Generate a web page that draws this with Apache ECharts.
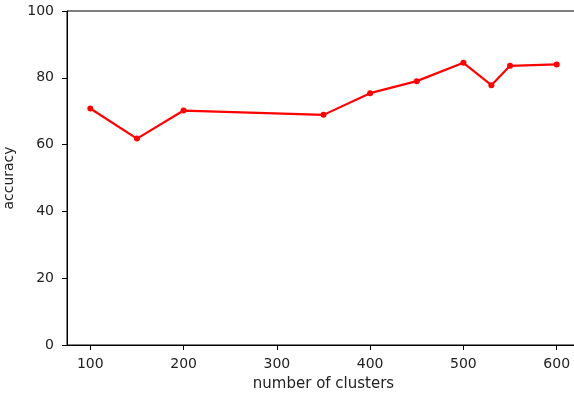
<!DOCTYPE html>
<html>
<head>
<meta charset="utf-8">
<script src="https://cdn.jsdelivr.net/npm/echarts@6/dist/echarts.min.js"></script>
<style>
  html, body { margin: 0; padding: 0; background: #fff; }
  #chart { width: 574px; height: 398px; }
</style>
</head>
<body>
<div id="chart"></div>
<script>
// Accuracy measured for each number of clusters
const clusters = [100, 150, 200, 350, 400, 450, 500, 530, 550, 600];
const accuracy = [70.8, 61.8, 70.2, 68.9, 75.4, 79.0, 84.5, 77.8, 83.6, 84.0];
const xTicks = [100, 200, 300, 400, 500, 600];
const yTicks = [0, 20, 40, 60, 80, 100];

const textColor = '#222';
const font = 'DejaVu Sans';

const chart = echarts.init(document.getElementById('chart'), null, { renderer: 'canvas' });
chart.setOption({
  animation: false,
  grid: {
    left: 67, top: 11, right: -6, bottom: 53,
    containLabel: false,
    outerBoundsMode: 'none',
    show: true, borderColor: '#000', borderWidth: 1, backgroundColor: 'transparent'
  },
  xAxis: {
    type: 'value',
    min: 75, max: 625,
    name: 'number of clusters',
    nameLocation: 'middle',
    nameGap: 32,
    nameTextStyle: { color: textColor, fontFamily: font, fontSize: 15 },
    axisLine: { show: true, onZero: false, lineStyle: { color: '#000', width: 1 } },
    axisTick: { show: true, length: 5, customValues: xTicks, lineStyle: { color: '#000' } },
    axisLabel: { customValues: xTicks, margin: 12, color: textColor, fontFamily: font, fontSize: 14 },
    splitLine: { show: false }
  },
  yAxis: {
    type: 'value',
    min: 0, max: 100, interval: 20,
    name: 'accuracy',
    nameLocation: 'middle',
    nameGap: 46,
    nameTextStyle: { color: textColor, fontFamily: font, fontSize: 14 },
    axisLine: { show: true, onZero: false, lineStyle: { color: '#000', width: 1 } },
    axisTick: { show: true, length: 5, lineStyle: { color: '#000' } },
    axisLabel: { margin: 13, color: textColor, fontFamily: font, fontSize: 14, formatter: v => yTicks.includes(v) ? String(v) : '' },
    splitLine: { show: false }
  },
  series: [{
    type: 'line',
    data: clusters.map((c, i) => [c, accuracy[i]]),
    symbol: 'circle',
    symbolSize: 6,
    showAllSymbol: true,
    lineStyle: { color: '#ff0000', width: 2.2 },
    itemStyle: { color: '#ff0000' }
  }]
});
</script>
</body>
</html>
